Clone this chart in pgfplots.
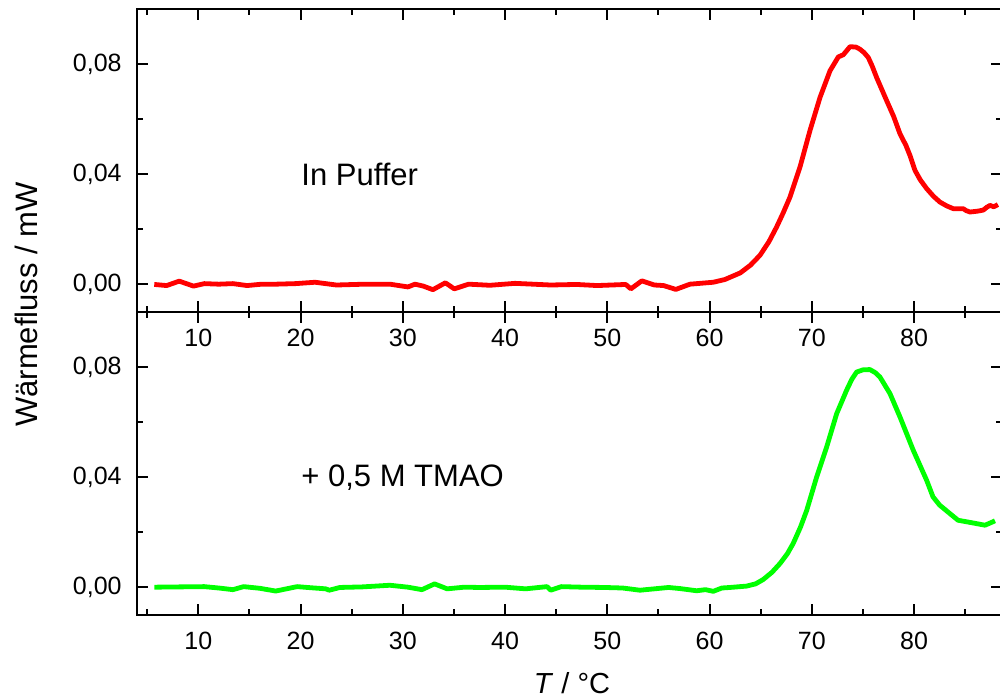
\documentclass[border=0pt]{standalone}
\usepackage{fontspec}
\setmainfont{Liberation Sans}
\usepackage{pgfplots}
\pgfplotsset{compat=1.18}
\definecolor{myred}{RGB}{255,0,0}
\definecolor{mygreen}{RGB}{0,255,0}
\pgfplotsset{
  panel/.style={
    scale only axis, width=432.5pt, height=151.5pt,
    xmin=4, xmax=88.6, ymin=-0.01, ymax=0.1,
    xtick={10,20,30,40,50,60,70,80},
    xticklabels={10,20,30,40,50,60,70,80},
    minor xtick={5,15,25,35,45,55,65,75,85},
    ytick={0,0.04,0.08},
    yticklabels={{0,00},{0,04},{0,08}},
    minor ytick={0.02,0.06},
    tick align=inside,
    major tick length=5.5pt, minor tick length=3pt,
    axis line style={line width=1pt},
    every tick/.style={black, line width=1pt},
    /pgf/number format/assume math mode=true,
    ticklabel style={font=\fontsize{12.5}{15}\selectfont},
    yticklabel style={inner sep=0pt, xshift=-7.5pt},
    xticklabel style={inner sep=0pt, yshift=-8.5pt},
    clip=true,
  }
}
\begin{document}
\begin{tikzpicture}
\useasboundingbox (0,0) rectangle (500pt,348.5pt);
% top panel
\begin{axis}[panel, at={(68.5pt,192.5pt)}, anchor=south west]
\addplot[myred, line width=2.4pt, line join=round] coordinates {
(5.69,0.0000) (6.9,-0.0004) (8.13,0.0012) (9.53,-0.0006) (10.58,0.0003) (12.0,0.0001) (13.38,0.0003) (14.77,-0.0004) (16.2,0.0001) (17.57,0.0001) (19.5,0.0003) (21.41,0.0008) (23.5,-0.0002) (26.3,0.0001) (28.74,0.0001) (30.5,-0.0009) (31.19,0.0001) (32.0,-0.0006) (32.94,-0.0019) (34.16,0.0006) (35.03,-0.0016) (36.43,0.0001) (38.52,-0.0003) (40.97,0.0004) (44.46,-0.0002) (47,0.0000) (49.0,-0.0004) (51.8,0.0000) (52.3,-0.0016) (53.37,0.0013) (54.6,-0.0002) (55.5,-0.0004) (56.7,-0.0018) (58.08,0.0001) (59.06,0.0004) (60.36,0.0008) (61.5,0.0018) (63.0,0.0042) (64.0,0.0070) (64.93,0.0106) (65.8,0.0155) (66.56,0.0209) (67.2,0.0260) (67.86,0.0317) (68.84,0.0426) (69.82,0.0559) (70.8,0.0679) (71.78,0.0776) (72.59,0.0826) (73.08,0.0834) (73.73,0.0863) (74.3,0.0862) (74.71,0.0854) (75.1,0.0842) (75.52,0.0824) (75.9,0.0793) (76.34,0.0751) (77.32,0.0667) (78.0,0.0610) (78.62,0.0547) (79.2,0.0505) (79.6,0.0468) (80.09,0.0414) (80.6,0.0380) (81.23,0.0348) (81.9,0.0320) (82.53,0.0299) (83.2,0.0285) (83.84,0.0275) (84.81,0.0275) (85.1,0.0268) (85.47,0.0263) (86.2,0.0266) (86.77,0.0270) (87.1,0.0280) (87.42,0.0287) (87.8,0.0282) (88.2,0.0290)
};
\node[anchor=west, inner sep=0pt, font=\fontsize{15.5}{18}\selectfont] at (axis cs:20.04,0.04) {In Puffer};
\end{axis}
% bottom panel
\begin{axis}[panel, at={(68.5pt,41pt)}, anchor=south west]
\addplot[mygreen, line width=2.4pt, line join=round] coordinates {
(5.69,0.0001) (8,0.0002) (10.58,0.0003) (12.0,-0.0002) (13.38,-0.0008) (14.43,0.0003) (16.0,-0.0003) (17.57,-0.0013) (19.66,0.0003) (21.0,-0.0001) (22.46,-0.0005) (22.8,-0.0010) (23.85,0.0000) (26,0.0002) (28.74,0.0008) (30.5,0.0001) (31.87,-0.0008) (33.1,0.0013) (34.33,-0.0005) (36,0.0001) (37.48,0.0000) (40,0.0001) (42.0,-0.0005) (44.1,0.0003) (44.46,-0.0010) (45.5,0.0003) (47.5,0.0001) (49.7,0.0000) (51.5,-0.0002) (53.19,-0.0010) (55.99,0.0000) (57.1,-0.0004) (58.74,-0.0012) (59.6,-0.0008) (60.36,-0.0014) (61.2,-0.0002) (62.0,0.0000) (63.63,0.0005) (64.5,0.0013) (65.25,0.0029) (66.1,0.0055) (66.89,0.0087) (67.6,0.0122) (68.18,0.0160) (68.9,0.0220) (69.5,0.0280) (70.47,0.0401) (71.45,0.0510) (72.43,0.0631) (73.4,0.0716) (73.9,0.0755) (74.38,0.0782) (75.0,0.0790) (75.68,0.0791) (76.2,0.0780) (76.66,0.0764) (77.64,0.0704) (78.62,0.0619) (79.92,0.0498) (81.23,0.0389) (81.85,0.0329) (82.5,0.0299) (83.51,0.0268) (84.3,0.0244) (85.79,0.0234) (86.93,0.0226) (87.5,0.0235) (87.91,0.0242)
};
\node[anchor=west, inner sep=0pt, font=\fontsize{15.5}{18}\selectfont] at (axis cs:20.04,0.04) {+ 0,5 M TMAO};
\end{axis}
\node[rotate=90, inner sep=0pt, font=\fontsize{15.5}{18}\selectfont] at (13pt,196.25pt) {Wärmefluss / mW};
\node[anchor=base, inner sep=0pt, font=\fontsize{14.5}{17}\selectfont] at (286pt,2pt) {\textit{T} / °C};
\end{tikzpicture}
\end{document}
